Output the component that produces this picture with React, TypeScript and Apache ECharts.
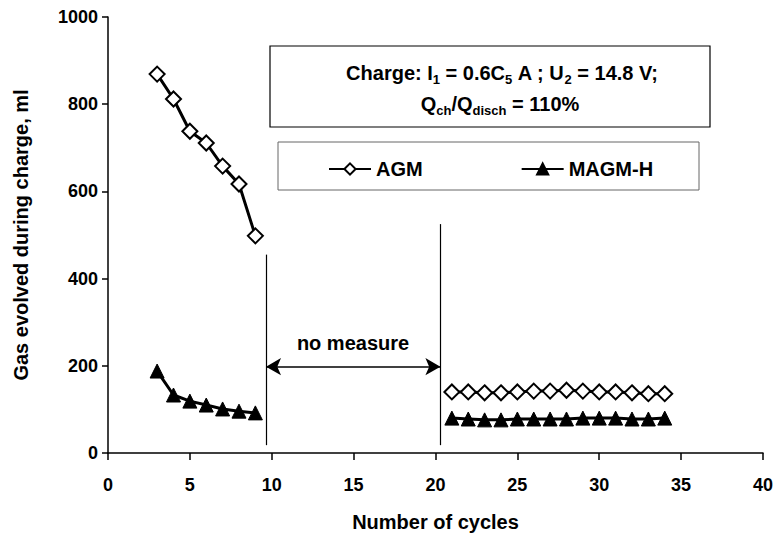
import React, { useEffect, useRef } from "react";
import * as echarts from "echarts";

const cyclesEarly = [3, 4, 5, 6, 7, 8, 9];
const agmEarly = [869, 812, 738, 711, 658, 617, 498];
const magmEarly = [188, 133, 119, 110, 101, 96, 92];

const cyclesLate = [21, 22, 23, 24, 25, 26, 27, 28, 29, 30, 31, 32, 33, 34];
const agmLate = [140, 140, 138, 138, 140, 142, 142, 144, 142, 140, 140, 138, 136, 136];
const magmLate = [80, 78, 76, 76, 78, 78, 78, 78, 80, 80, 80, 78, 78, 80];

const breakStart = 9.65;
const breakEnd = 20.3;
const arrowLevel = 198;

const FONT = "'Liberation Sans', Arial, sans-serif";

function buildData(early: number[], late: number[]) {
  const d: any[] = [];
  cyclesEarly.forEach((c, i) => d.push([c, early[i]]));
  d.push([15, "-"]);
  cyclesLate.forEach((c, i) => d.push([c, late[i]]));
  return d;
}

export default function App() {
  const ref = useRef<HTMLDivElement>(null);
  useEffect(() => {
    const chart = echarts.init(ref.current!, null, { renderer: "svg" });
    const textStyle = { fontFamily: FONT, fontWeight: "bold" as const, color: "#000" };
    const subRich = { s: { fontSize: 13, fontFamily: FONT, fontWeight: "bold", fill: "#000", padding: [12, 0, 0, 0] } };
    chart.setOption({
      animation: false,
      backgroundColor: "#fff",
      textStyle,
      grid: { left: 108, right: 12, top: 17, bottom: 88, containLabel: false },
      xAxis: {
        type: "value",
        min: 0,
        max: 40,
        interval: 5,
        name: "Number of cycles",
        nameLocation: "middle",
        nameGap: 59,
        nameTextStyle: { ...textStyle, fontSize: 20 },
        axisLine: { show: true, lineStyle: { color: "#000", width: 1.5 } },
        axisTick: { show: true, inside: false, length: 7, lineStyle: { color: "#000", width: 1.5 } },
        axisLabel: { ...textStyle, fontSize: 18, margin: 23, formatter: (v: number) => String(v) },
        splitLine: { show: false },
      },
      yAxis: {
        type: "value",
        min: 0,
        max: 1000,
        interval: 200,
        name: "Gas evolved during charge, ml",
        nameLocation: "middle",
        nameGap: 77,
        nameTextStyle: { ...textStyle, fontSize: 20 },
        axisLine: { show: true, lineStyle: { color: "#000", width: 1.5 } },
        axisTick: { show: true, inside: false, length: 6, lineStyle: { color: "#000", width: 1.5 } },
        axisLabel: { ...textStyle, fontSize: 18, margin: 10, formatter: (v: number) => String(v) },
        splitLine: { show: false },
      },
      legend: {
        left: 323,
        top: 154,
        itemGap: 98,
        itemWidth: 42,
        itemHeight: 14,
        textStyle: { ...textStyle, fontSize: 20 },
        data: ["AGM", "MAGM-H"],
      },
      graphic: [
        {
          type: "rect",
          shape: { x: 270, y: 46, width: 440, height: 81 },
          style: { fill: "#fff", stroke: "#000", lineWidth: 1.2 },
          z: 1,
        },
        {
          type: "rect",
          shape: { x: 278, y: 142, width: 421, height: 48 },
          style: { fill: "#fff", stroke: "#666", lineWidth: 1 },
          z: 1,
        },
        {
          type: "text",
          x: 502,
          y: 73,
          z: 5,
          style: {
            text: "Charge: I{s|1} = 0.6C{s|5} A ; U{s|2} = 14.8 V;",
            rich: subRich,
            fontSize: 20,
            fontFamily: FONT,
            fontWeight: "bold",
            fill: "#000",
            align: "center",
            verticalAlign: "middle",
          },
        },
        {
          type: "text",
          x: 500,
          y: 104,
          z: 5,
          style: {
            text: "Q{s|ch}/Q{s|disch} = 110%",
            rich: subRich,
            fontSize: 20,
            fontFamily: FONT,
            fontWeight: "bold",
            fill: "#000",
            align: "center",
            verticalAlign: "middle",
          },
        },
        {
          type: "text",
          x: 353,
          y: 343,
          z: 5,
          style: {
            text: "no measure",
            fontSize: 20,
            fontFamily: FONT,
            fontWeight: "bold",
            fill: "#000",
            align: "center",
            verticalAlign: "middle",
          },
        },
      ],
      series: [
        {
          name: "AGM",
          type: "line",
          data: buildData(agmEarly, agmLate),
          connectNulls: false,
          symbol: "diamond",
          symbolSize: 15,
          lineStyle: { color: "#000", width: 3 },
          itemStyle: { color: "#fff", borderColor: "#000", borderWidth: 2 },
          z: 3,
          markLine: {
            silent: true,
            symbol: ["none", "none"],
            label: { show: false },
            lineStyle: { color: "#000", width: 1.2, type: "solid" },
            data: [
              [{ coord: [breakStart, 18] }, { coord: [breakStart, 455] }],
              [{ coord: [breakEnd, 18] }, { coord: [breakEnd, 525] }],
            ],
          },
        },
        {
          name: "MAGM-H",
          type: "line",
          data: buildData(magmEarly, magmLate),
          connectNulls: false,
          symbol: "triangle",
          symbolSize: 14,
          lineStyle: { color: "#000", width: 3 },
          itemStyle: { color: "#000", borderColor: "#000", borderWidth: 1 },
          z: 3,
          markLine: {
            silent: true,
            symbol: ["arrow", "arrow"],
            symbolSize: [13, 15],
            label: { show: false },
            lineStyle: { color: "#000", width: 1.5, type: "solid" },
            data: [[{ coord: [breakStart, arrowLevel] }, { coord: [breakEnd, arrowLevel] }]],
          },
        },
      ],
    });
    return () => chart.dispose();
  }, []);
  return (
    <div
      ref={ref}
      style={{ position: "absolute", left: 0, top: 0, width: 776, height: 541 }}
    />
  );
}
